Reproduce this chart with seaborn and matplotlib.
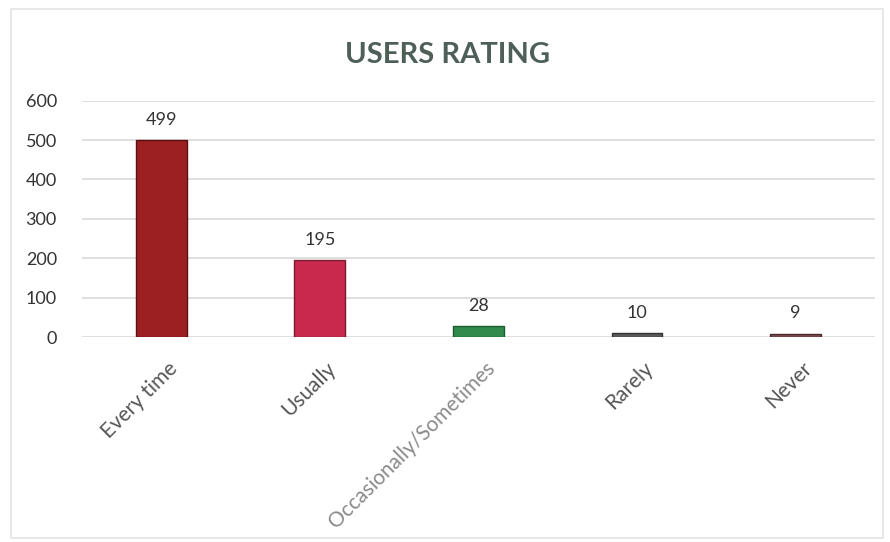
import matplotlib
matplotlib.use("Agg")
import matplotlib.pyplot as plt
import seaborn as sns
import pandas as pd
from matplotlib import transforms

categories = ["Every time", "Usually", "Occasionally/Sometimes", "Rarely", "Never"]
values = [499, 195, 28, 10, 9]
bar_colors = ["#9c1f22", "#c9294d", "#2f8a4c", "#5a5a5a", "#7d4a4e"]
edge_colors = ["#5a1010", "#7a1a30", "#1d5a30", "#333333", "#4a2a2c"]
yticks = [0, 100, 200, 300, 400, 500, 600]

sns.set_theme(style="white")
plt.rcParams["font.family"] = ["Lato", "DejaVu Sans"]

df = pd.DataFrame({"cat": categories, "val": values})

fig = plt.figure(figsize=(8.9, 5.42), dpi=100)
ax = fig.add_axes([0.092, 0.378, 0.891, 0.4363])

sns.barplot(data=df, x="cat", y="val", hue="cat", palette=bar_colors,
            legend=False, width=0.32, ax=ax, saturation=1)
for p, ec in zip(ax.patches, edge_colors):
    p.set_edgecolor(ec)
    p.set_linewidth(1.0)

for c, v in zip(ax.containers, values):
    ax.bar_label(c, labels=[str(v)], padding=9, fontsize=13, color="#333333")

ax.set_ylim(0, 600)
ax.set_xlim(-0.5, 4.5)
ax.set_yticks(yticks)
ax.set_yticklabels([str(t) for t in yticks], fontsize=13, color="#333333")
ax.yaxis.grid(True, color="#d9d9d9", linewidth=1.2)
ax.set_axisbelow(True)
for s in ax.spines.values():
    s.set_visible(False)
ax.tick_params(axis="y", length=0, pad=18)
ax.tick_params(axis="x", length=0, pad=2)
ax.set_xlabel("")
ax.set_ylabel("")

offset = transforms.ScaledTranslation(6 / 100, -18 / 100, fig.dpi_scale_trans)
ax.set_xticks(range(len(categories)))
labels = ax.set_xticklabels(categories, rotation=45, ha="right",
                            rotation_mode="anchor", fontsize=15, color="#555555")
for lab in labels:
    lab.set_transform(lab.get_transform() + offset)
labels[2].set_color("#8a8a8a")

fig.text(0.503, 0.898, "USERS RATING", ha="center", va="center",
         fontsize=21, fontweight="bold", color="#4d5f57")

border = plt.Rectangle((0.012, 0.008), 0.98, 0.975, transform=fig.transFigure,
                       fill=False, edgecolor="#e4e4e4", linewidth=1.2)
fig.patches.append(border)

fig.savefig("out.png", dpi=100, facecolor="white")
